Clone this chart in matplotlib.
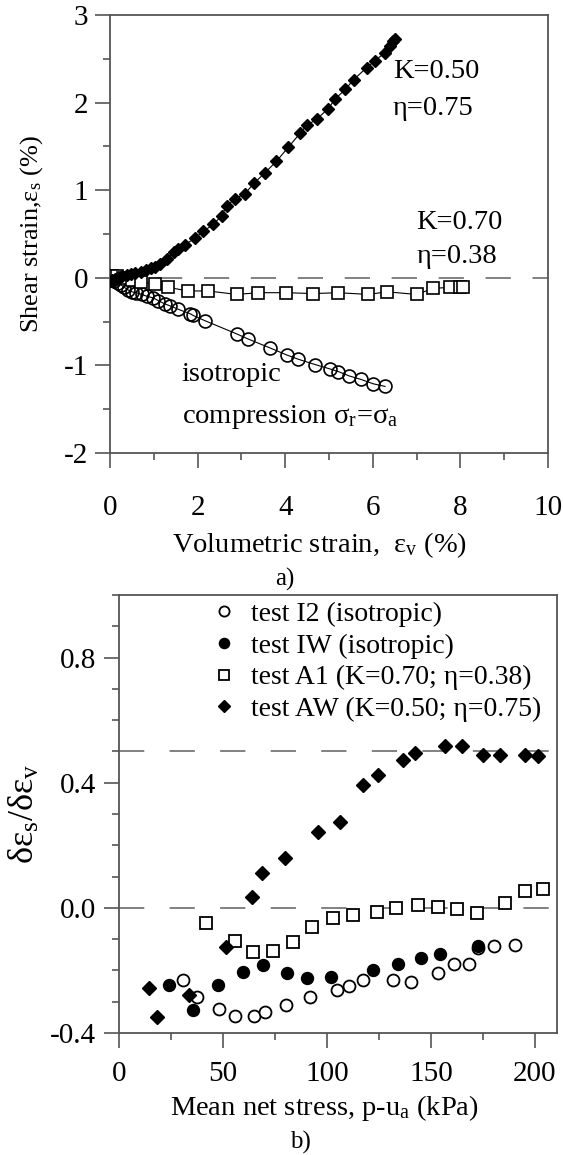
"""
Shear strain vs volumetric strain (a) and strain increment ratio vs mean net stress (b).
"""

import matplotlib
matplotlib.use('Agg')
import matplotlib.pyplot as plt
from matplotlib.ticker import MultipleLocator, FormatStrFormatter

plt.rcParams['font.family'] = ['Liberation Serif', 'DejaVu Serif']
plt.rcParams['mathtext.fontset'] = 'custom'
plt.rcParams['mathtext.rm'] = 'Liberation Serif'
plt.rcParams['mathtext.it'] = 'Liberation Serif:italic'
plt.rcParams['axes.unicode_minus'] = False

# ---- (a) shear strain vs volumetric strain ----
aw_ev = [0.05, 0.12, 0.2, 0.28, 0.38, 0.48, 0.58, 0.7, 0.82, 0.93, 1.03, 1.15, 1.29,
         1.45, 1.55, 1.71, 1.94, 2.13, 2.36, 2.55, 2.66, 2.85, 3.08, 3.29, 3.54, 3.80,
         4.07, 4.34, 4.49, 4.72, 4.98, 5.14, 5.37, 5.56, 5.86, 6.05, 6.28, 6.39, 6.45, 6.5]
aw_es = [-0.03, -0.01, 0.0, 0.02, 0.03, 0.04, 0.05, 0.07, 0.09, 0.11, 0.12, 0.16, 0.21,
         0.29, 0.33, 0.38, 0.45, 0.53, 0.61, 0.71, 0.82, 0.90, 0.96, 1.08, 1.20, 1.33,
         1.49, 1.65, 1.74, 1.81, 1.93, 2.04, 2.15, 2.26, 2.40, 2.48, 2.57, 2.65, 2.70, 2.73]

a1_ev = [0.05, 0.15, 0.3, 0.5, 0.7, 1.03, 1.33, 1.79, 2.24, 2.89, 3.39, 4.02, 4.64,
         5.21, 5.90, 6.32, 7.0, 7.38, 7.76, 8.0, 8.05]
a1_es = [0.02, 0.02, 0.0, -0.03, -0.05, -0.07, -0.11, -0.15, -0.15, -0.19, -0.17, -0.17,
         -0.18, -0.17, -0.19, -0.16, -0.19, -0.12, -0.11, -0.11, -0.10]

i2_ev = [0.05, 0.1, 0.18, 0.25, 0.33, 0.42, 0.5, 0.6, 0.72, 0.84, 0.99, 1.1, 1.26, 1.37,
         1.56, 1.83, 1.90, 2.17, 2.89, 3.16, 3.65, 4.03, 4.30, 4.68, 5.02, 5.21, 5.46,
         5.73, 6.01, 6.28]
i2_es = [-0.02, -0.04, -0.06, -0.08, -0.11, -0.14, -0.16, -0.17, -0.19, -0.21, -0.23,
         -0.26, -0.30, -0.32, -0.36, -0.41, -0.43, -0.49, -0.64, -0.70, -0.80, -0.88,
         -0.93, -0.99, -1.04, -1.07, -1.12, -1.16, -1.21, -1.24]

# ---- (b) strain increment ratio vs mean net stress ----
i2_p = [30.9, 37.3, 48.2, 55.8, 64.9, 70.2, 80.3, 91.8, 105, 110.7, 117.2, 131.9,
        140.2, 153.2, 161, 168.3, 172.7, 180.4, 190.4]
i2_r = [-0.230, -0.286, -0.324, -0.345, -0.346, -0.332, -0.310, -0.286, -0.262, -0.249,
        -0.230, -0.230, -0.236, -0.209, -0.180, -0.180, -0.129, -0.122, -0.118]

iw_p = [24.2, 35.4, 47.8, 59.8, 69.4, 80.6, 90.5, 101.9, 122.3, 134, 145, 154.3, 172.7]
iw_r = [-0.246, -0.326, -0.246, -0.206, -0.182, -0.209, -0.225, -0.220, -0.198, -0.180,
        -0.161, -0.148, -0.122]

a1_p = [41.8, 55.8, 64.6, 73.9, 83.8, 92.6, 102.7, 112.6, 123.9, 133.2, 143.9, 153.2,
        162.3, 172, 185.6, 195.2, 204]
a1_r = [-0.047, -0.105, -0.140, -0.138, -0.108, -0.060, -0.033, -0.022, -0.012, -0.001,
        0.010, 0.004, -0.004, -0.015, 0.017, 0.055, 0.060]

aw_p = [14.6, 18.1, 33.8, 51.4, 63.8, 68.6, 79.8, 95.8, 106.3, 117.5, 124.7, 136.7,
        142.3, 156.7, 164.8, 175.2, 183.2, 195.2, 201.6]
aw_r = [-0.257, -0.348, -0.278, -0.124, 0.036, 0.111, 0.159, 0.244, 0.276, 0.394, 0.426,
        0.474, 0.495, 0.518, 0.518, 0.490, 0.490, 0.490, 0.484]

frame = '#555555'
dash = '#777777'
fs_tick = 21
fs_label = 20.5

fig = plt.figure(figsize=(5.63, 11.55), dpi=100, facecolor='white')
ax1 = fig.add_axes([110 / 563, 1 - 453 / 1155, 438 / 563, 438 / 1155])
ax2 = fig.add_axes([119 / 563, 1 - 1033 / 1155, 438 / 563, 438 / 1155])


def style(ax, xpad, ypad):
    for sp in ax.spines.values():
        sp.set_color(frame)
        sp.set_linewidth(1.3)
    ax.tick_params(which='both', direction='out', color=frame, width=1.2,
                   top=False, right=False, labelsize=fs_tick)
    ax.tick_params(which='major', length=10.5)
    ax.tick_params(which='minor', length=5)
    ax.tick_params(axis='x', pad=xpad)
    ax.tick_params(axis='y', pad=ypad)


# (a)
ax1.axhline(0, color=dash, lw=1.3, dashes=(14, 12), zorder=1)
ax1.plot(i2_ev, i2_es, '-', color='black', lw=0.8, marker='o', ms=9.3,
         mfc='none', mec='black', mew=1.2, zorder=3)
ax1.plot(a1_ev, a1_es, '-', color='black', lw=0.8, marker='s', ms=8.2,
         mfc='white', mec='black', mew=1.2, zorder=4)
ax1.plot(aw_ev, aw_es, '-', color='black', lw=0.8, marker='D', ms=6,
         mfc='black', mec='black', zorder=5)

ax1.set_xlim(0, 10)
ax1.set_ylim(-2, 3)
ax1.xaxis.set_major_locator(MultipleLocator(2))
ax1.xaxis.set_minor_locator(MultipleLocator(1))
ax1.yaxis.set_major_locator(MultipleLocator(1))
ax1.yaxis.set_minor_locator(MultipleLocator(0.5))
style(ax1, 20, 5)

ax1.text(6.46, 2.36, 'K=0.50', fontsize=fs_label, va='center', ha='left')
ax1.text(6.46, 1.93, 'η=0.75', fontsize=fs_label, va='center', ha='left')
ax1.text(7.0, 0.63, 'K=0.70', fontsize=fs_label, va='center', ha='left')
ax1.text(7.0, 0.24, 'η=0.38', fontsize=fs_label, va='center', ha='left')
ax1.text(1.64, -1.10, 'isotropic', fontsize=fs_label, va='center', ha='left')
ax1.text(1.64, -1.59, r'compression $\mathrm{σ_r}$=$\mathrm{σ_a}$',
         fontsize=fs_label, va='center', ha='left')

ax1.set_xlabel(r'Volumetric strain,  $\mathrm{ε_v}$ (%)', fontsize=fs_label, va='center')
ax1.xaxis.set_label_coords(0.479, -0.210)
ax1.set_ylabel(r'Shear strain,$\mathrm{ε_s}$ (%)', fontsize=19, va='center')
ax1.yaxis.set_label_coords(-0.178, 0.5)
fig.text(285 / 563, 1 - 579 / 1155, 'a)', fontsize=18, ha='center', va='center')

# (b)
ax2.axhline(0, color=dash, lw=1.3, dashes=(14, 14), zorder=1)
ax2.axhline(0.5, color=dash, lw=1.3, dashes=(14, 14), zorder=1)
ax2.plot(i2_p, i2_r, 'o', ms=8.6, mfc='white', mec='black', mew=1.3,
         label='test I2 (isotropic)', zorder=3)
ax2.plot(iw_p, iw_r, 'o', ms=8.6, mfc='black', mec='black',
         label='test IW (isotropic)', zorder=3)
ax2.plot(a1_p, a1_r, 's', ms=8, mfc='white', mec='black', mew=1.3,
         label='test A1 (K=0.70; η=0.38)', zorder=3)
ax2.plot(aw_p, aw_r, 'D', ms=7.3, mfc='black', mec='black',
         label='test AW (K=0.50; η=0.75)', zorder=4)

ax2.set_xlim(0, 210.6)
ax2.set_ylim(-0.4, 1.0)
ax2.xaxis.set_major_locator(MultipleLocator(50))
ax2.xaxis.set_minor_locator(MultipleLocator(25))
ax2.yaxis.set_major_locator(MultipleLocator(0.4))
ax2.yaxis.set_minor_locator(MultipleLocator(0.1))
ax2.yaxis.set_major_formatter(FormatStrFormatter('%.1f'))
style(ax2, 10, 6)

ax2.legend(loc='upper left', bbox_to_anchor=(0.182, 1.01), frameon=False,
           fontsize=20, handletextpad=0.5, labelspacing=0.22, borderaxespad=0,
           handlelength=1.0, markerscale=0.85)

ax2.set_xlabel(r'Mean net stress, p-u$\mathrm{_a}$ (kPa)', fontsize=fs_label, va='center')
ax2.xaxis.set_label_coords(0.468, -0.171)
ax2.set_ylabel(r'$\mathrm{δε_s/δε_v}$', fontsize=26, va='center')
ax2.yaxis.set_label_coords(-0.215, 0.5)
fig.text(300 / 563, 1 - 1142 / 1155, 'b)', fontsize=18, ha='center', va='center')

fig.savefig('out.png', dpi=100, facecolor='white')
plt.close(fig)
